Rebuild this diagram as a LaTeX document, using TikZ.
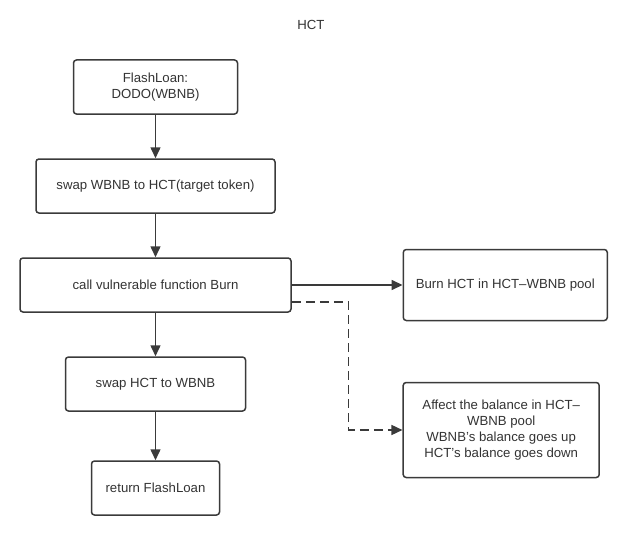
\documentclass[tikz,border=0pt]{standalone}
\usepackage{fontspec}
\setmainfont{Liberation Sans}
\usetikzlibrary{arrows.meta}
\definecolor{ln}{HTML}{3a3a3a}
\definecolor{tx}{HTML}{333333}
\begin{document}
\begin{tikzpicture}[x=1pt,y=-1pt,
  box/.style={draw=ln,line width=1.5pt,rounded corners=3pt,inner sep=0pt,align=center,
    text=tx,font=\fontsize{13.2}{16}\selectfont},
  conn/.style={draw=ln,line width=1.5pt,-{Triangle[length=11pt,width=10pt]}},
  dconn/.style={conn,dash pattern=on 9pt off 5pt}]
\useasboundingbox (0,0) rectangle (627,551);
\node[text=tx,font=\fontsize{13.2}{16}\selectfont] (title) at (311,24.5) {HCT};
\node[box,minimum width=164pt,minimum height=54pt] (b1) at (155.5,87) {FlashLoan:\\DODO(WBNB)};
\node[box,minimum width=239pt,minimum height=54pt] (b2) at (155.5,186) {swap WBNB to HCT(target token)};
\node[box,minimum width=271pt,minimum height=54pt] (b3) at (155.5,285) {call vulnerable function Burn};
\node[box,minimum width=180pt,minimum height=54pt] (b4) at (155.5,384) {swap HCT to WBNB};
\node[box,minimum width=128pt,minimum height=54pt] (b5) at (155.5,488) {return FlashLoan};
\node[box,minimum width=204pt,minimum height=71pt] (ba) at (505.3,285) {Burn HCT in HCT–WBNB pool};
\node[box,minimum width=196pt,minimum height=95pt] (bb) at (501.2,430) {Affect the balance in HCT–\\WBNB pool\\WBNB's balance goes up\\HCT's balance goes down};
\draw[conn] (b1) -- (b2);
\draw[conn] (b2) -- (b3);
\draw[conn] (b3) -- (b4);
\draw[conn] (b4) -- (b5);
\draw[conn] (b3.east) -- (ba.west);
\coordinate (d0) at ([yshift=-17pt]b3.east);
\coordinate (d1) at (348.3,302);
\draw[dconn] (d0) -- (d1) |- (bb.west);
\end{tikzpicture}
\end{document}
